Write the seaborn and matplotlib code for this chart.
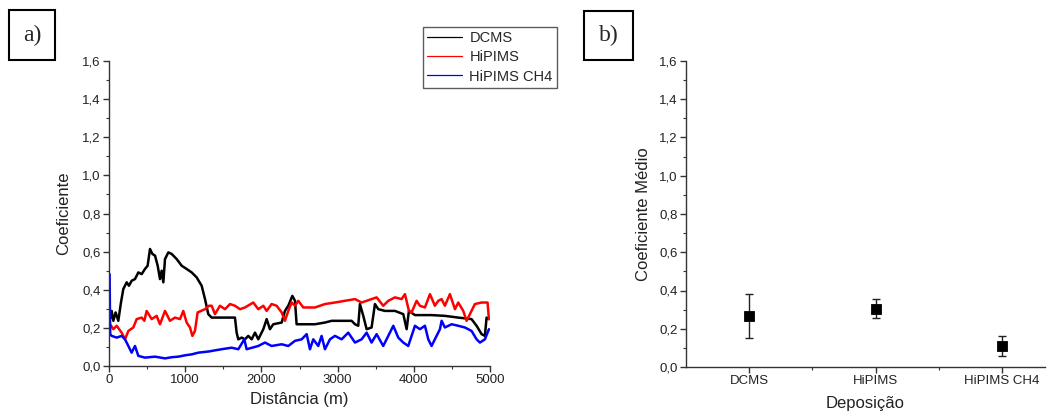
import matplotlib
matplotlib.use("Agg")
import matplotlib.pyplot as plt
from matplotlib.ticker import MultipleLocator, FuncFormatter, FixedLocator
from matplotlib.patches import Rectangle
import seaborn as sns
import pandas as pd
import numpy as np

# ---------------- data ----------------
dcms_dist = [0, 13, 35, 57, 87, 122, 157, 188, 232, 262, 297, 341, 385, 429, 472, 507, 538, 569, 604,
             639, 669, 691, 713, 735, 779, 822, 888, 954, 1019, 1085, 1150, 1216, 1260, 1303, 1347,
             1478, 1653, 1675, 1697, 1741, 1784, 1828, 1872, 1916, 1959, 2025, 2069, 2112, 2156, 2266,
             2309, 2353, 2406, 2441, 2462, 2550, 2703, 2834, 2921, 3184, 3228, 3271, 3293, 3337, 3381,
             3446, 3490, 3534, 3621, 3753, 3862, 3906, 3936, 4015, 4233, 4408, 4583, 4758, 4824, 4890,
             4933, 4955, 4986]
dcms_coef = [0.333, 0.246, 0.289, 0.237, 0.281, 0.237, 0.333, 0.404, 0.439, 0.421, 0.447, 0.456, 0.491,
             0.482, 0.509, 0.526, 0.614, 0.588, 0.579, 0.526, 0.456, 0.500, 0.439, 0.561, 0.596, 0.588,
             0.561, 0.526, 0.509, 0.491, 0.465, 0.421, 0.351, 0.272, 0.254, 0.254, 0.254, 0.175, 0.140,
             0.149, 0.140, 0.158, 0.140, 0.175, 0.140, 0.193, 0.246, 0.193, 0.219, 0.228, 0.289, 0.316,
             0.368, 0.342, 0.219, 0.219, 0.219, 0.228, 0.237, 0.237, 0.219, 0.211, 0.325, 0.263, 0.193,
             0.202, 0.325, 0.298, 0.289, 0.289, 0.272, 0.193, 0.289, 0.267, 0.267, 0.263, 0.254, 0.246,
             0.211, 0.167, 0.158, 0.254, 0.246]

hipims_dist = [0, 13, 57, 101, 166, 210, 254, 319, 363, 429, 464, 494, 560, 625, 669, 735, 800, 866, 932,
               975, 1019, 1063, 1094, 1128, 1163, 1260, 1312, 1347, 1391, 1456, 1522, 1588, 1653, 1719,
               1784, 1894, 1959, 2025, 2069, 2134, 2200, 2266, 2309, 2353, 2397, 2441, 2484, 2550, 2703,
               2834, 2965, 3096, 3228, 3315, 3446, 3512, 3599, 3665, 3753, 3840, 3884, 3936, 3971, 4037,
               4080, 4146, 4212, 4277, 4321, 4365, 4408, 4474, 4540, 4583, 4649, 4693, 4736, 4802, 4890,
               4968, 4986]
hipims_coef = [0.228, 0.219, 0.193, 0.211, 0.175, 0.140, 0.184, 0.202, 0.246, 0.254, 0.237, 0.289, 0.246,
               0.263, 0.219, 0.289, 0.237, 0.254, 0.246, 0.289, 0.228, 0.202, 0.158, 0.184, 0.281, 0.298,
               0.316, 0.316, 0.272, 0.316, 0.298, 0.325, 0.316, 0.298, 0.307, 0.333, 0.298, 0.316, 0.289,
               0.325, 0.316, 0.281, 0.237, 0.289, 0.333, 0.316, 0.342, 0.307, 0.307, 0.325, 0.333, 0.342,
               0.351, 0.333, 0.351, 0.360, 0.316, 0.342, 0.360, 0.351, 0.377, 0.289, 0.281, 0.342, 0.316,
               0.307, 0.377, 0.316, 0.342, 0.351, 0.316, 0.377, 0.298, 0.333, 0.289, 0.237, 0.272, 0.325,
               0.333, 0.333, 0.246]

ch4_dist = [8, 12, 16, 35, 101, 166, 210, 254, 297, 341, 385, 472, 604, 735, 822, 910, 997, 1085, 1172, 1260,
            1325, 1347, 1478, 1609, 1697, 1776, 1806, 1959, 2047, 2134, 2266, 2353, 2441, 2528, 2594, 2637,
            2681, 2746, 2790, 2834, 2900, 2965, 3053, 3140, 3228, 3315, 3381, 3446, 3512, 3599, 3665, 3731,
            3796, 3862, 3927, 4015, 4080, 4146, 4190, 4233, 4299, 4343, 4365, 4408, 4496, 4583, 4671, 4758,
            4824, 4868, 4933, 4986]
ch4_coef = [0.482, 0.30, 0.167, 0.158, 0.149, 0.158, 0.140, 0.105, 0.070, 0.105, 0.053, 0.044, 0.049, 0.040,
            0.046, 0.049, 0.056, 0.061, 0.070, 0.074, 0.077, 0.079, 0.088, 0.096, 0.088, 0.140, 0.088,
            0.105, 0.123, 0.105, 0.114, 0.105, 0.132, 0.140, 0.167, 0.088, 0.140, 0.105, 0.158, 0.088,
            0.140, 0.158, 0.140, 0.175, 0.123, 0.140, 0.175, 0.123, 0.167, 0.105, 0.158, 0.211, 0.149,
            0.123, 0.105, 0.211, 0.193, 0.211, 0.140, 0.105, 0.158, 0.193, 0.237, 0.202, 0.219, 0.211,
            0.202, 0.184, 0.140, 0.123, 0.140, 0.193]

series_names = ["DCMS", "HiPIMS", "HiPIMS CH4"]
series_colors = ["#000000", "#ff0000", "#0000ff"]

mean_coef = [0.265, 0.305, 0.110]
mean_err = [0.115, 0.050, 0.050]

# ---------------- style ----------------
sns.set_theme(style="ticks")
plt.rcParams["font.family"] = ["Liberation Sans", "DejaVu Sans"]
plt.rcParams["axes.linewidth"] = 1.0
plt.rcParams["axes.edgecolor"] = "#333333"

comma = FuncFormatter(lambda v, p: f"{v:.1f}".replace(".", ","))

fig = plt.figure(figsize=(10.51, 4.16), dpi=100)
axA = fig.add_axes([109 / 1051, 50 / 416, 381 / 1051, 305 / 416])
axB = fig.add_axes([686 / 1051, 49 / 416, 359 / 1051, 306 / 416])

# ---------------- panel a ----------------
frames = []
for name, d, c in [("DCMS", dcms_dist, dcms_coef), ("HiPIMS", hipims_dist, hipims_coef),
                   ("HiPIMS CH4", ch4_dist, ch4_coef)]:
    frames.append(pd.DataFrame({"dist": d, "coef": c, "serie": name}))
dfA = pd.concat(frames, ignore_index=True)

sns.lineplot(data=dfA, x="dist", y="coef", hue="serie", hue_order=series_names,
             palette=series_colors, estimator=None, sort=False, linewidth=1.8, ax=axA, legend=False)

axA.set_xlim(0, 5000)
axA.set_ylim(0, 1.6)
axA.xaxis.set_major_locator(MultipleLocator(1000))
axA.xaxis.set_minor_locator(MultipleLocator(500))
axA.yaxis.set_major_locator(MultipleLocator(0.2))
axA.yaxis.set_minor_locator(MultipleLocator(0.1))
axA.yaxis.set_major_formatter(comma)
axA.set_xlabel("Distância (m)", fontsize=12, labelpad=4)
axA.set_ylabel("Coeficiente", fontsize=12, labelpad=8)

# legend
handles = [plt.Line2D([], [], color=c, lw=0.9) for c in series_colors]
fig.legend(handles, series_names, loc="upper right", bbox_to_anchor=(557 / 1051, 1 - 27 / 416),
           frameon=True, fancybox=False, edgecolor="#333333", fontsize=10.5,
           handlelength=2.4, handletextpad=0.5, borderpad=0.3, labelspacing=0.35,
           borderaxespad=0)

# ---------------- panel b ----------------
dfB = pd.DataFrame({"dep": series_names, "coef": mean_coef, "err": mean_err})
axB.errorbar(x=dfB["dep"], y=dfB["coef"], yerr=dfB["err"], fmt="none", ecolor="#222222",
             elinewidth=1.0, capsize=3, capthick=1.0, zorder=2)
sns.scatterplot(data=dfB, x="dep", y="coef", marker="s", s=55, color="black",
                edgecolor="black", ax=axB, zorder=3)
axB.set_xlim(-0.5, 2.34)
axB.set_ylim(0, 1.6)
axB.xaxis.set_minor_locator(FixedLocator([0.5, 1.5]))
axB.yaxis.set_major_locator(MultipleLocator(0.2))
axB.yaxis.set_minor_locator(MultipleLocator(0.1))
axB.yaxis.set_major_formatter(comma)
axB.set_xlabel("Deposição", fontsize=12, labelpad=6)
axB.set_ylabel("Coeficiente Médio", fontsize=12, labelpad=6)

for ax in (axA, axB):
    sns.despine(ax=ax)
    ax.tick_params(axis="both", which="major", direction="out", length=4, width=1.0,
                   labelsize=9.5, color="#333333", labelcolor="#222222", pad=2)
    ax.tick_params(axis="both", which="minor", direction="out", length=2.5, width=0.8,
                   color="#333333")
    ax.xaxis.label.set_color("#222222")
    ax.yaxis.label.set_color("#222222")

# ---------------- panel tags ----------------
for (x0, y0, w, h, txt) in [(9, 10, 46, 50, "a)"), (584, 11, 49, 49, "b)")]:
    fig.patches.append(Rectangle((x0 / 1051, 1 - (y0 + h) / 416), w / 1051, h / 416,
                                 transform=fig.transFigure, fill=False, edgecolor="black",
                                 linewidth=1.5))
    fig.text((x0 + w / 2) / 1051, 1 - (y0 + h / 2) / 416, txt, ha="center", va="center",
             fontsize=17, family=["Liberation Serif", "DejaVu Serif"])

fig.savefig("out.png", dpi=100)
